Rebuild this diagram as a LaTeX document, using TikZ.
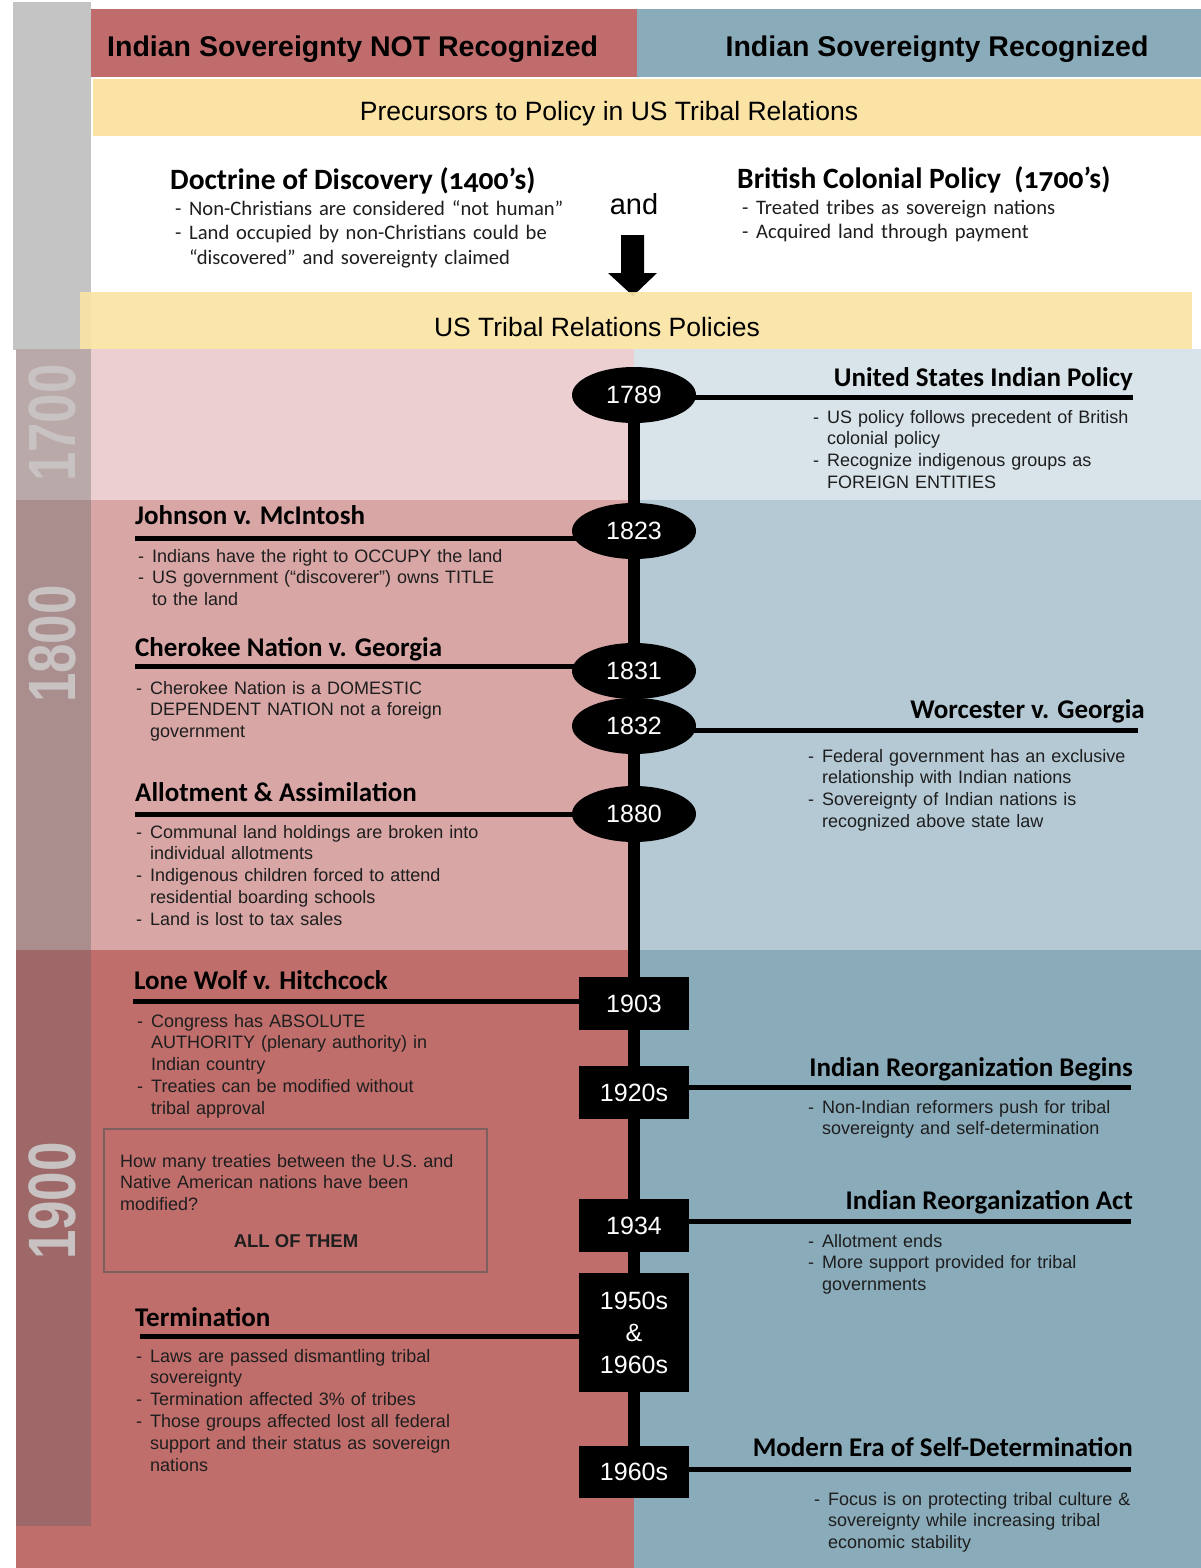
\documentclass[tikz,border=0pt]{standalone}
\usepackage{fontspec}
\setmainfont{Liberation Sans}
\newfontfamily\calfont{Carlito}
\newfontfamily\calold{Carlito}[Numbers=OldStyle]
\usepackage{graphicx}
\usetikzlibrary{shapes.geometric}
\definecolor{hdrred}{RGB}{192,108,108}
\definecolor{hdrblue}{RGB}{138,171,186}
\definecolor{yel}{RGB}{250,227,164}
\definecolor{grstrip}{RGB}{196,196,196}
\definecolor{pinkA}{RGB}{235,207,209}
\definecolor{blueA}{RGB}{216,228,234}
\definecolor{pinkB}{RGB}{217,166,166}
\definecolor{blueB}{RGB}{180,201,212}
\definecolor{pinkC}{RGB}{192,110,107}
\definecolor{blueC}{RGB}{138,171,186}
\definecolor{stripA}{RGB}{185,169,169}
\definecolor{stripB}{RGB}{170,141,141}
\definecolor{stripC}{RGB}{158,104,104}
\definecolor{centtxt}{RGB}{200,194,194}
\definecolor{bodytxt}{RGB}{30,30,30}
\definecolor{boxline}{RGB}{125,95,95}
\newcommand{\bitem}[2][14pt]{\hangindent=#1\hangafter=1\noindent\makebox[#1][l]{-}#2\par}
\tikzset{
  bul/.style={anchor=base west, inner sep=0pt, align=left, text width=440pt,
    text=bodytxt, font=\fontsize{18}{21.8}\selectfont},
  cbul/.style={anchor=base west, inner sep=0pt, align=left, text width=440pt,
    text=bodytxt, font=\calfont\fontsize{20.6}{24.5}\selectfont},
  ttl/.style={inner sep=0pt, font=\calfont\bfseries\fontsize{27}{30}\selectfont},
  conn/.style={line width=5pt},
  yrell/.style={ellipse, fill=black, inner sep=0pt, minimum width=124pt, minimum height=56pt,
    text=white, font=\fontsize{25}{30}\selectfont},
  yrbox/.style={rectangle, fill=black, inner sep=0pt, minimum width=110pt, minimum height=53pt,
    text=white, align=center, font=\fontsize{25}{32}\selectfont},
  cent/.style={rotate=90, inner sep=0pt, text=centtxt, font=\bfseries\fontsize{67}{70}\selectfont},
  hdr/.style={inner sep=0pt, font=\bfseries\fontsize{28.5}{32}\selectfont},
  band/.style={inner sep=0pt, font=\fontsize{26.5}{30}\selectfont}
}
\begin{document}
\begin{tikzpicture}[x=1pt,y=-1pt]
\useasboundingbox (0,0) rectangle (1201,1568);
\fill[white] (0,0) rectangle (1201,1568);
% left gray strip (top)
\fill[grstrip] (13,2) rectangle (91,350);
% headers
\fill[hdrred] (91,9) rectangle (637,77);
\fill[hdrblue] (637,9) rectangle (1201,77);
\node[hdr, anchor=base west] (h1) at (107,57) {Indian Sovereignty NOT Recognized};
\node[hdr, anchor=base] (h2) at (937,57) {Indian Sovereignty Recognized};
% yellow band 1
\fill[yel] (93,79) rectangle (1201,136);
\node[band, anchor=base] (b1) at (609,121) {Precursors to Policy in US Tribal Relations};
% precursors
\node[inner sep=0pt, anchor=base west, font=\calold\bfseries\fontsize{29.5}{32}\selectfont] (doc) at (170,189) {Doctrine of Discovery (1400’s)};
\node[cbul] (docb) at (175,215) {\bitem{Non-Christians are considered “not human”}\bitem{Land occupied by non-Christians could be\newline “discovered” and sovereignty claimed}};
\node[inner sep=0pt, anchor=base west, font=\calold\bfseries\fontsize{29.5}{32}\selectfont] (brit) at (737,188) {British Colonial Policy\ \ (1700’s)};
\node[cbul] (britb) at (742,214) {\bitem{Treated tribes as sovereign nations}\bitem{Acquired land through payment}};
\node[inner sep=0pt, anchor=base, font=\fontsize{29}{32}\selectfont] (and) at (634,214) {and};
% arrow
\fill[black] (621,235) -- (644,235) -- (644,273) -- (657,273) -- (633,296) -- (608,273) -- (621,273) -- cycle;
% rows
\fill[pinkA] (91,349) rectangle (634,500);
\fill[blueA] (634,349) rectangle (1201,500);
\fill[pinkB] (91,500) rectangle (634,950);
\fill[blueB] (634,500) rectangle (1201,950);
\fill[pinkC] (16,950) rectangle (634,1568);
\fill[blueC] (634,950) rectangle (1201,1568);
\fill[stripA] (16,349) rectangle (91,500);
\fill[stripB] (16,500) rectangle (91,950);
\fill[stripC] (16,950) rectangle (91,1526);
\node[cent] (c17) at (52,423) {\scalebox{0.79}[1]{1700}};
\node[cent] (c18) at (52,644) {\scalebox{0.79}[1]{1800}};
\node[cent] (c19) at (52,1201) {\scalebox{0.79}[1]{1900}};
% yellow band 2
\fill[yel, opacity=0.92] (80,292) rectangle (1192,349);
\node[band, anchor=base] (b2) at (597,336) {US Tribal Relations Policies};
% year node positions
\coordinate (p1789) at (634,395);
\coordinate (p1823) at (634,531);
\coordinate (p1831) at (634,671);
\coordinate (p1832) at (634,726);
\coordinate (p1880) at (634,814);
\coordinate (p1903) at (634,1003.5);
\coordinate (p1920) at (634,1092.5);
\coordinate (p1934) at (634,1225.5);
\coordinate (p1950) at (634,1332.5);
\coordinate (p1960) at (634,1472);
% connector ends
\coordinate (eUS) at (1133,397);
\coordinate (eJo) at (135,538);
\coordinate (eCh) at (135,666);
\coordinate (eWo) at (1138,730);
\coordinate (eAl) at (135,814);
\coordinate (eLW) at (133,1001);
\coordinate (eRB) at (1131,1087);
\coordinate (eRA) at (1131,1221);
\coordinate (eTe) at (140,1336);
\coordinate (eME) at (1131,1469);
% connectors
\draw[conn] (eUS) -- (eUS -| p1789);
\draw[conn] (eJo) -- (eJo -| p1823);
\draw[conn] (eCh) -- (eCh -| p1831);
\draw[conn] (eWo) -- (eWo -| p1832);
\draw[conn] (eAl) -- (eAl -| p1880);
\draw[conn] (eLW) -- (eLW -| p1903);
\draw[conn] (eRB) -- (eRB -| p1920);
\draw[conn] (eRA) -- (eRA -| p1934);
\draw[conn] (eTe) -- (eTe -| p1950);
\draw[conn] (eME) -- (eME -| p1960);
% timeline
\draw[line width=12pt] (p1789) -- (p1960);
% year nodes
\node[yrell] (y1789) at (p1789) {1789};
\node[yrell] (y1823) at (p1823) {1823};
\node[yrell] (y1831) at (p1831) {1831};
\node[yrell] (y1832) at (p1832) {1832};
\node[yrell] (y1880) at (p1880) {1880};
\node[yrbox] (y1903) at (p1903) {1903};
\node[yrbox] (y1920) at (p1920) {1920s};
\node[yrbox] (y1934) at (p1934) {1934};
\node[yrbox, minimum height=119pt] (y1950) at (p1950) {1950s\\\&\\1960s};
\node[yrbox, minimum height=52pt] (y1960) at (p1960) {1960s};
% titles
\node[ttl, anchor=base east] (tUS) at (1133,386) {United States Indian Policy};
\node[ttl, anchor=base west] (tJo) at (135,524) {Johnson v. McIntosh};
\node[ttl, anchor=base west] (tCh) at (135,656) {Cherokee Nation v. Georgia};
\node[ttl, anchor=base east] (tWo) at (1145,718) {Worcester v. Georgia};
\node[ttl, anchor=base west] (tAl) at (135,801) {Allotment \& Assimilation};
\node[ttl, anchor=base west] (tLW) at (134,989) {Lone Wolf v. Hitchcock};
\node[ttl, anchor=base east] (tRB) at (1133,1076) {Indian Reorganization Begins};
\node[ttl, anchor=base east] (tRA) at (1133,1209) {Indian Reorganization Act};
\node[ttl, anchor=base west] (tTe) at (135,1326) {Termination};
\node[ttl, anchor=base east] (tME) at (1133,1456) {Modern Era of Self-Determination};
% bullets
\node[bul] (bUS) at (813,423) {\bitem{US policy follows precedent of British\newline colonial policy}\bitem{Recognize indigenous groups as\newline FOREIGN ENTITIES}};
\node[bul] (bJo) at (138,562) {\bitem{Indians have the right to OCCUPY the land}\bitem{US government (“discoverer”) owns TITLE\newline to the land}};
\node[bul] (bCh) at (136,694) {\bitem{Cherokee Nation is a DOMESTIC\newline DEPENDENT NATION not a foreign\newline government}};
\node[bul] (bWo) at (808,762) {\bitem{Federal government has an exclusive\newline relationship with Indian nations}\bitem{Sovereignty of Indian nations is\newline recognized above state law}};
\node[bul] (bAl) at (136,838) {\bitem{Communal land holdings are broken into\newline individual allotments}\bitem{Indigenous children forced to attend\newline residential boarding schools}\bitem{Land is lost to tax sales}};
\node[bul] (bLW) at (137,1027) {\bitem{Congress has ABSOLUTE\newline AUTHORITY (plenary authority) in\newline Indian country}\bitem{Treaties can be modified without\newline tribal approval}};
\node[bul] (bRB) at (808,1113) {\bitem{Non-Indian reformers push for tribal\newline sovereignty and self-determination}};
\node[bul] (bRA) at (808,1247) {\bitem{Allotment ends}\bitem{More support provided for tribal\newline governments}};
\node[bul] (bTe) at (136,1362) {\bitem{Laws are passed dismantling tribal\newline sovereignty}\bitem{Termination affected 3\% of tribes}\bitem{Those groups affected lost all federal\newline support and their status as sovereign\newline nations}};
\node[bul] (bME) at (814,1505) {\bitem{Focus is on protecting tribal culture \&\newline sovereignty while increasing tribal\newline economic stability}};
% question box
\draw[boxline, line width=1.5pt] (104,1129) rectangle (487,1272);
\node[bul] (qtxt) at (120,1167) {How many treaties between the U.S. and\newline Native American nations have been\newline modified?};
\node[inner sep=0pt, anchor=base, text=bodytxt, font=\bfseries\fontsize{18.5}{21}\selectfont] (qans) at (296,1247) {ALL OF THEM};
\end{tikzpicture}
\end{document}
